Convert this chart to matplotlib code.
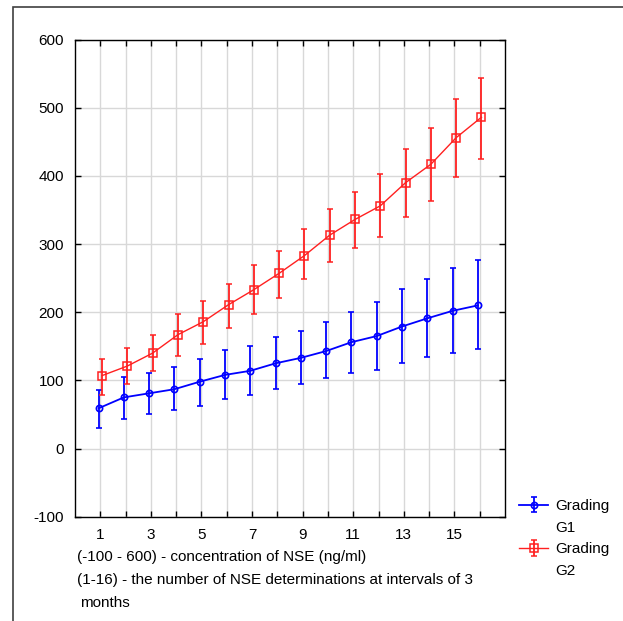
import matplotlib
matplotlib.use("Agg")
import matplotlib.pyplot as plt
import numpy as np
from matplotlib.patches import Rectangle
from matplotlib.lines import Line2D

plt.rcParams['font.family'] = ['Liberation Sans', 'DejaVu Sans']
plt.rcParams['axes.unicode_minus'] = False

# Messpunkte (1-16)
messung = np.arange(1, 17)

# Grading G1
g1_mean = [59, 75, 81, 87, 98, 108, 114, 125, 133, 143, 156, 165, 179, 191, 202, 210]
g1_low = [30, 44, 50, 57, 63, 73, 78, 88, 94, 103, 111, 115, 125, 134, 140, 146]
g1_high = [86, 105, 111, 119, 132, 145, 151, 163, 173, 186, 201, 215, 234, 249, 265, 276]

# Grading G2
g2_mean = [107, 121, 140, 167, 186, 211, 233, 257, 283, 313, 336, 356, 390, 417, 456, 486]
g2_low = [79, 94, 113, 135, 154, 177, 198, 221, 249, 274, 294, 311, 340, 363, 398, 425]
g2_high = [132, 148, 167, 197, 217, 242, 269, 290, 322, 352, 377, 402, 440, 470, 512, 544]

x_ticks = [1, 3, 5, 7, 9, 11, 13, 15]
y_ticks = [-100, 0, 100, 200, 300, 400, 500, 600]

fs = 11

fig = plt.figure(figsize=(6.23, 6.21), dpi=100)
ax = fig.add_axes([75/623, 1 - 516.7/621, 430/623, 477.2/621])

# Rahmen um die Grafik
fig.patches.append(Rectangle((13/623, -0.1), 1.2, 1 - 7/621 + 0.1, transform=fig.transFigure,
                             fill=False, edgecolor='#404040', linewidth=1.2))

g1_err = [np.array(g1_mean) - np.array(g1_low), np.array(g1_high) - np.array(g1_mean)]
g2_err = [np.array(g2_mean) - np.array(g2_low), np.array(g2_high) - np.array(g2_mean)]

h1 = ax.errorbar(messung - 0.07, g1_mean, yerr=g1_err, color='#0000ff', linewidth=1.3,
                 marker='o', markersize=4.5, markerfacecolor='none', markeredgewidth=1.2,
                 capsize=2.5, elinewidth=1.3, capthick=1.0, zorder=3)
h2 = ax.errorbar(messung + 0.07, g2_mean, yerr=g2_err, color='#ff2020', linewidth=1.0,
                 marker='s', markersize=6, markerfacecolor='none', markeredgewidth=1.1,
                 capsize=2.5, elinewidth=1.3, capthick=1.0, zorder=3)

ax.set_xlim(0, 17)
ax.set_ylim(-100, 600)
ax.set_xticks(np.arange(1, 17))
ax.set_xticklabels([str(i) if i in x_ticks else '' for i in range(1, 17)])
ax.set_yticks(y_ticks)
ax.grid(True, color='#d8d8d8', linewidth=1.0)
ax.set_axisbelow(True)
ax.tick_params(direction='in', length=4, width=1, top=True, right=True,
               labelsize=fs, pad=8)
for s in ax.spines.values():
    s.set_linewidth(1.0)

fig.text(77/623, 1 - 557/621, "(-100 - 600) - concentration of NSE (ng/ml)", fontsize=fs, va='center')
fig.text(77/623, 1 - 580/621, "(1-16) - the number of NSE determinations at intervals of 3", fontsize=fs, va='center')
fig.text(80/623, 1 - 603/621, "months", fontsize=fs, va='center')

# Legende: zweizeilige Beschriftung, Symbol auf Höhe der ersten Zeile
leer = Line2D([], [], linestyle='none')
leg = ax.legend([h1, leer, h2, leer], ['Grading', 'G1', 'Grading', 'G2'],
                loc='upper left', bbox_to_anchor=(519/623, 1 - 499/621), bbox_transform=fig.transFigure,
                frameon=False, fontsize=fs, handlelength=1.9, handletextpad=0.45,
                labelspacing=0.5, borderaxespad=0, borderpad=0)

fig.savefig('out.png', dpi=100)
